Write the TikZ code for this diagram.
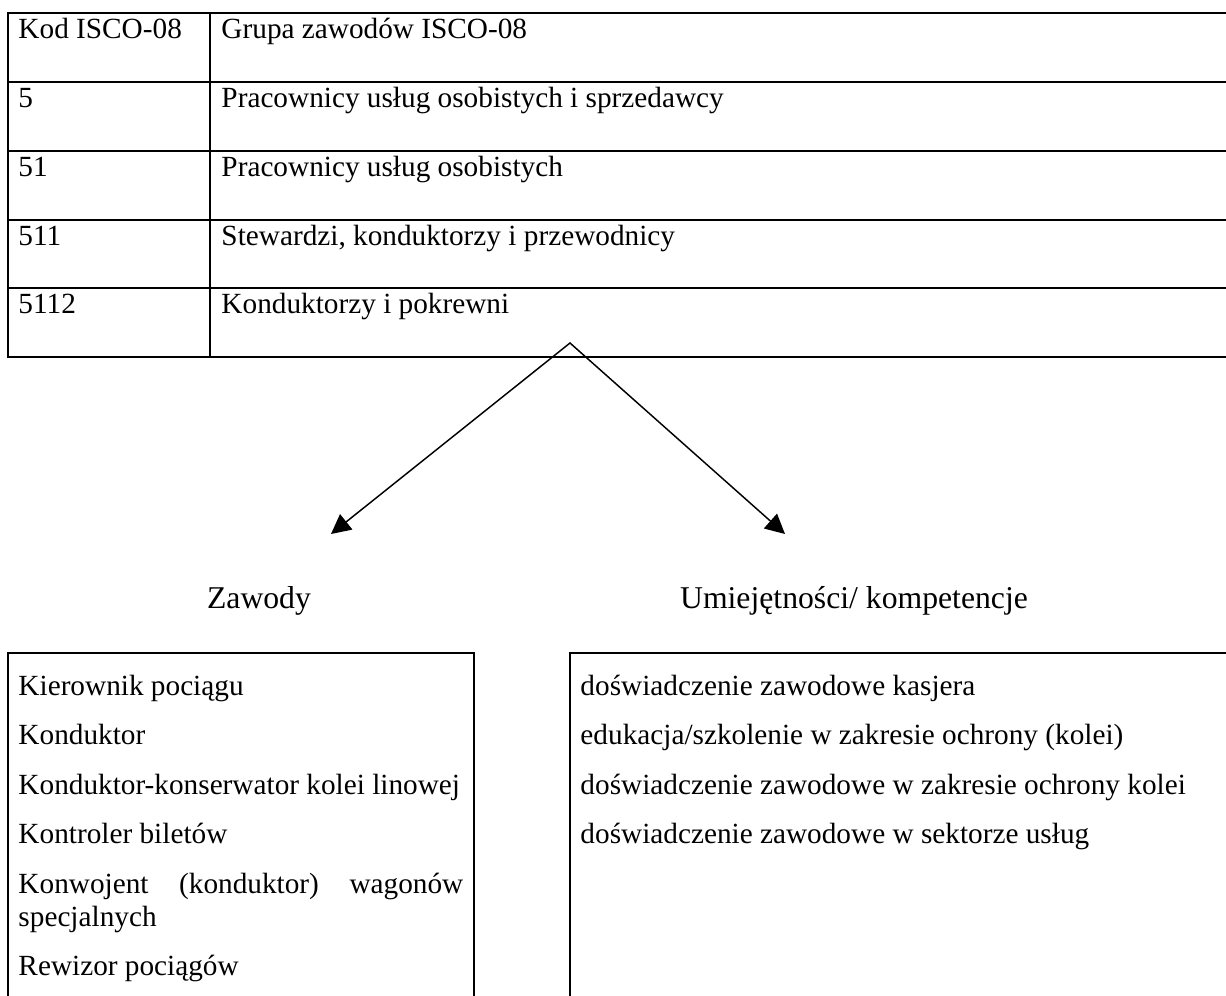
\documentclass[tikz,border=0pt]{standalone}
\usepackage{fontspec}
\setmainfont{Liberation Serif}
\usetikzlibrary{arrows.meta}
\begin{document}
\begin{tikzpicture}[x=0.41pt,y=-0.41pt,
  rule/.style={line width=0.85pt,line cap=rect},
  link/.style={line width=0.6pt,line join=miter,
    {Triangle[length=8pt,width=8pt]}-{Triangle[length=8pt,width=8pt]}},
  cell/.style={anchor=base west,inner sep=0pt,font=\fontsize{12}{14}\selectfont},
  heading/.style={anchor=base,inner sep=0pt,font=\fontsize{13}{15}\selectfont},
  item/.style={anchor=base west,inner sep=0pt,font=\fontsize{12}{14}\selectfont}]
\useasboundingbox (0,0) rectangle (1226,996);

% ISCO-08 table grid
\foreach \y in {13,82,151,220,288,357}
  \draw[rule] (8,\y) -- (1230,\y);
\draw[rule] (8,13) -- (8,357);
\draw[rule] (210,13) -- (210,357);

% table cells
\node[cell] (code0) at (18,38)  {Kod ISCO-08};
\node[cell] (name0) at (221,38) {Grupa zawodów ISCO-08};
\node[cell] (code1) at (18,107)  {5};
\node[cell] (name1) at (221,107) {Pracownicy usług osobistych i sprzedawcy};
\node[cell] (code2) at (18,176)  {51};
\node[cell] (name2) at (221,176) {Pracownicy usług osobistych};
\node[cell] (code3) at (18,245)  {511};
\node[cell] (name3) at (221,245) {Stewardzi, konduktorzy i przewodnicy};
\node[cell] (code4) at (18,313)  {5112};
\node[cell] (name4) at (221,313) {Konduktorzy i pokrewni};

% branching arrows
\coordinate (apex) at (570,343);
\coordinate (tipL) at (331,534);
\coordinate (tipR) at (785,534);
\draw[link] (tipL) -- (apex) -- (tipR);

% headings
\node[heading] (occupations) at (259,608) {Zawody};
\node[heading] (skills) at (854,608) {Umiejętności/ kompetencje};

% open boxes
\draw[rule] (8,1000) -- (8,653) -- (474,653) -- (474,1000);
\draw[rule] (570,1000) -- (570,653) -- (1230,653);

% occupations list
\node[item] (occ1) at (18,695)   {Kierownik pociągu};
\node[item] (occ2) at (18,744.5) {Konduktor};
\node[item] (occ3) at (18,794)   {Konduktor-konserwator kolei linowej};
\node[item] (occ4) at (18,843.5) {Kontroler biletów};
\node[item] (occ5) at (18,893)   {\makebox[182.4pt][s]{Konwojent (konduktor) wagonów}};
\node[item] (occ5b) at (18,926)  {specjalnych};
\node[item] (occ6) at (18,975.5) {Rewizor pociągów};

% skills list
\node[item] (sk1) at (580,695)   {doświadczenie zawodowe kasjera};
\node[item] (sk2) at (580,744.5) {edukacja/szkolenie w zakresie ochrony (kolei)};
\node[item] (sk3) at (580,794)   {doświadczenie zawodowe w zakresie ochrony kolei};
\node[item] (sk4) at (580,843.5) {doświadczenie zawodowe w sektorze usług};
\end{tikzpicture}
\end{document}
